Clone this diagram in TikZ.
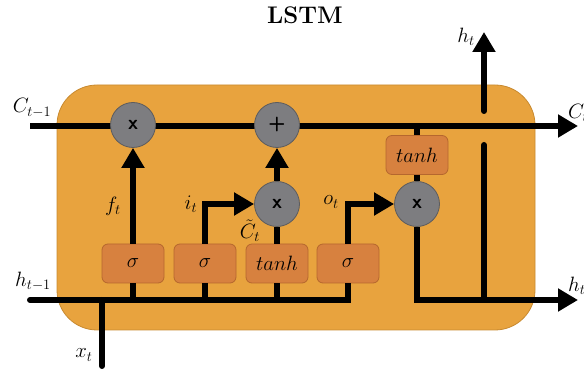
\documentclass[tikz,border=0pt]{standalone}
\usetikzlibrary{arrows.meta}
\definecolor{cellorange}{HTML}{E8A33E}
\definecolor{cellborder}{HTML}{C88A30}
\definecolor{gatefill}{HTML}{D7813F}
\definecolor{gateborder}{HTML}{B5672E}
\definecolor{opfill}{HTML}{7D7D80}
\definecolor{opborder}{HTML}{5C5C5E}
\tikzset{
  gatebox/.style={draw=gateborder, line width=0.8pt, fill=gatefill, rounded corners=6pt,
    minimum width=62pt, minimum height=39pt, inner sep=0pt, font=\fontsize{21}{21}\selectfont},
  opcirc/.style={circle, draw=opborder, line width=0.8pt, fill=opfill, minimum size=45pt, inner sep=0pt,
    font=\sffamily\bfseries\fontsize{20}{20}\selectfont},
  wire/.style={line width=6pt, draw=black},
  awire/.style={line width=6pt, draw=black, -{Triangle[length=20pt,width=22pt]}},
  lbl/.style={font=\fontsize{22}{22}\selectfont, inner sep=0pt}
}
\begin{document}
\begin{tikzpicture}[x=1pt,y=-1pt]
\useasboundingbox (0,0) rectangle (584,371);
% title
\node[font=\bfseries\fontsize{24}{24}\selectfont] (title) at (305,15) {LSTM};
% cell body
\node[draw=cellborder, line width=0.8pt, fill=cellorange, rounded corners=40pt,
  minimum width=478pt, minimum height=245pt, inner sep=0pt] (cell) at (296,207.5) {};
% coordinates
\coordinate (cin) at (30,126);
\coordinate (cout) at (578,126);
\coordinate (hin) at (30,300);
\coordinate (hout) at (578,300);
\coordinate (xin) at (102,366);
\coordinate (xj) at (102,300);
\coordinate (j1) at (133,300);
\coordinate (j2) at (205,300);
\coordinate (j3) at (277,300);
\coordinate (j4) at (348,300);
\coordinate (htop) at (484,32);
\coordinate (hlow) at (484,300);
\coordinate (hgapb) at (484,145);
\coordinate (hgapt) at (484,111);
\coordinate (ibend) at (205,204);
\coordinate (obend) at (348,204);
\coordinate (outbend) at (417,300);
% wires in background
\draw[wire, line cap=round] (hin) -- (j4);
\draw[wire] (j4) -- ++(0,3);
\draw[wire, line cap=round] (xin) -- (xj);
\draw[awire] (cin) -- (cout);
% gates
\node[gatebox] (sig1) at (133,263.5) {$\sigma$};
\node[gatebox] (sig2) at (205,263.5) {$\sigma$};
\node[gatebox] (tanh1) at (277,263.5) {$tanh$};
\node[gatebox] (sig3) at (348,263.5) {$\sigma$};
\node[gatebox] (tanh2) at (417,155) {$tanh$};
% ops
\node[opcirc] (mulf) at (133,125) {x};
\node[opcirc] (add) at (277,125) {+};
\node[opcirc] (muli) at (277,204) {x};
\node[opcirc] (mulo) at (417,204) {x};
% connections
\draw[wire] (j1) -- (sig1.south);
\draw[wire] (j2) -- (sig2.south);
\draw[wire] (j3) -- (tanh1.south);
\draw[wire] (j4) -- (sig3.south);
\draw[awire] (sig1.north) -- (mulf.south);
\draw[awire] (sig2.north) -- (ibend) -- (muli.west);
\draw[wire] (tanh1.north) -- (muli.south);
\draw[awire] (muli.north) -- (add.south);
\draw[awire] (sig3.north) -- (obend) -- (mulo.west);
\draw[wire] (tanh2.north) -- (tanh2.north |- cin);
\draw[wire] (tanh2.south) -- (mulo.north);
\draw[awire] (mulo.south) -- (outbend) -- (hout);
\draw[wire, line cap=round] (hlow) -- (hgapb);
\draw[awire, line cap=round] (hgapt) -- (htop);
% labels
\node[lbl] (lc1) at (32,108) {$C_{t-1}$};
\node[lbl, anchor=west] (lc2) at (568,113) {$C_t$};
\node[lbl] (lh1) at (33,281) {$h_{t-1}$};
\node[lbl, anchor=west] (lh2) at (568,286) {$h_t$};
\node[lbl] (lht) at (466,37) {$h_t$};
\node[lbl] (lx) at (84,355) {$x_t$};
\node[lbl] (lf) at (113,206) {$f_t$};
\node[lbl] (li) at (191,204) {$i_t$};
\node[lbl] (lct) at (250,231) {$\tilde{C}_t$};
\node[lbl] (lo) at (331,202) {$o_t$};
\end{tikzpicture}
\end{document}
